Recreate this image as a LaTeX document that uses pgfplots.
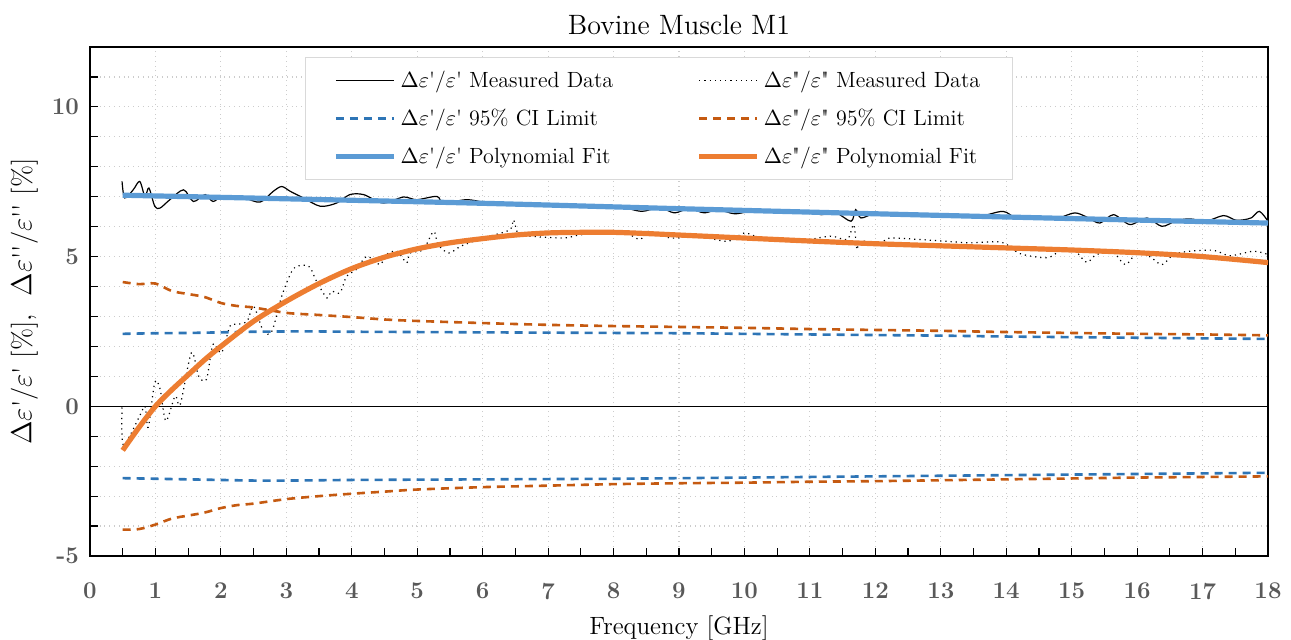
\documentclass[border=0pt]{standalone}
\usepackage{pgfplots}
\pgfplotsset{compat=1.18}
\definecolor{fitblue}{HTML}{5B9BD5}
\definecolor{fitorange}{HTML}{ED7D31}
\definecolor{ciblue}{HTML}{2E75B6}
\definecolor{ciorange}{HTML}{C55A11}
\definecolor{tickgray}{HTML}{595959}
\newcommand{\ep}{$\Delta\varepsilon$\textquotesingle/$\varepsilon$\textquotesingle}
\newcommand{\epp}{$\Delta\varepsilon$\textquotedbl/$\varepsilon$\textquotedbl}
\begin{document}
\begin{tikzpicture}
\begin{axis}[
  scale only axis,
  width=589pt, height=254.5pt,
  xmin=0, xmax=18, ymin=-5, ymax=12,
  xtick={0,1,...,18},
  minor x tick num=1,
  ytick={-5,0,5,10},
  minor ytick={-4,-3,-2,-1,1,2,3,4,6,7,8,9,11,12},
  tick pos=left,
  tick align=inside,
  major tick length=4pt, minor tick length=4pt,
  tick style={black, line width=0.6pt},
  xmajorgrids, ymajorgrids, yminorgrids,
  major grid style={gray!40, dotted, line width=0.6pt},
  minor grid style={gray!40, dotted, line width=0.6pt},
  axis line style={black, line width=0.9pt},
  /pgf/number format/assume math mode=true,
  ticklabel style={font=\fontsize{12}{14}\selectfont\bfseries, text=tickgray},
  xticklabel style={yshift=-10pt},
  yticklabel style={xshift=-2pt},
  title={Bovine Muscle M1},
  title style={font=\fontsize{14}{16}\selectfont, yshift=-3.5pt},
  xlabel={Frequency [GHz]},
  xlabel style={font=\fontsize{12.5}{15}\selectfont, yshift=-1pt},
  ylabel={\ep{} [\%],\ \ $\Delta\varepsilon$\textquotesingle\textquotesingle/$\varepsilon$\textquotesingle\textquotesingle{} [\%]},
  ylabel style={font=\fontsize{13.5}{15}\selectfont, yshift=0pt},
  legend columns=2,
  legend cell align=left,
  legend style={at={(0.1825,0.98)}, anchor=north west, draw=gray!30, fill=white,
    font=\fontsize{11}{13}\selectfont, inner xsep=14pt, inner ysep=4.5pt,
    row sep=5.3pt, /tikz/every even column/.append style={column sep=0pt}},
  legend image code/.code={\draw[#1] (0pt,0pt) -- (29pt,0pt);},
]
\addplot[black, line width=0.6pt, forget plot] coordinates {(0,0) (18,0)};

% eps' measured
\addplot[black, line width=0.6pt, smooth] coordinates {
(0.49,7.51) (0.53,6.96) (0.66,7.23) (0.76,7.51) (0.84,7.01) (0.9,7.29) (0.99,6.68)
(1.07,6.62) (1.22,6.9) (1.43,7.23) (1.58,6.84) (1.76,7.07) (1.88,6.84) (2.04,7.03)
(2.35,6.96) (2.6,6.82) (2.8,7.18) (2.93,7.34) (3.06,7.18) (3.26,6.96) (3.52,6.68)
(3.77,6.79) (3.97,7.07) (4.18,7.07) (4.48,6.79) (4.79,6.99) (4.99,6.9) (5.3,7.01)
(5.4,6.79) (5.76,6.9) (6.11,6.79) (6.6,6.78) (7.1,6.72) (7.6,6.7) (8.1,6.66)
(8.43,6.51) (8.7,6.64) (8.93,6.46) (9.15,6.6) (9.39,6.46) (9.6,6.58) (9.85,6.43)
(10.2,6.55) (10.6,6.5) (11.0,6.48) (11.17,6.4) (11.4,6.46) (11.63,6.18) (11.7,6.57)
(11.78,6.29) (12.0,6.44) (12.4,6.45) (12.8,6.4) (13.2,6.38) (13.6,6.35) (13.95,6.51)
(14.16,6.29) (14.5,6.33) (14.8,6.3) (15.05,6.46) (15.25,6.3) (15.43,6.12) (15.64,6.4)
(15.89,6.07) (16.15,6.29) (16.38,6.01) (16.6,6.2) (16.81,6.26) (17.05,6.18)
(17.32,6.37) (17.5,6.22) (17.63,6.23) (17.75,6.3) (17.87,6.51) (18.0,6.18)};
\addlegendentry{\makebox[146pt][l]{\ep{} Measured Data}}

% eps'' measured
\addplot[black, line width=0.6pt, dotted, smooth] coordinates {
(0.49,-0.04) (0.51,-1.3) (0.76,-0.32) (0.84,0.0) (0.89,-0.7) (0.99,0.8) (1.07,0.58)
(1.16,-0.49) (1.3,0.34) (1.38,0.07) (1.55,1.79) (1.66,1.01) (1.78,0.9) (1.88,2.07)
(2.01,1.79) (2.14,2.68) (2.24,2.73) (2.4,2.84) (2.5,3.34) (2.65,2.51) (2.78,2.51)
(2.93,3.68) (3.1,4.57) (3.25,4.71) (3.36,4.65) (3.46,4.18) (3.62,3.62) (3.69,3.84)
(3.82,3.79) (3.92,4.34) (4.07,4.57) (4.23,5.01) (4.43,4.73) (4.53,5.07) (4.69,5.18)
(4.84,4.79) (4.89,5.12) (5.09,5.23) (5.25,5.84) (5.32,5.4) (5.48,5.12) (5.66,5.34)
(5.86,5.51) (6.11,5.68) (6.42,5.9) (6.47,6.23) (6.55,5.73) (6.73,5.68) (7.24,5.62)
(7.5,5.73) (8.11,5.84) (8.4,5.57) (8.52,5.84) (8.88,5.62) (9.29,5.68) (9.75,5.51)
(10.0,5.79) (10.31,5.57) (10.8,5.51) (11.31,5.68) (11.57,5.57) (11.67,6.07)
(11.72,5.23) (11.77,5.51) (12.08,5.46) (12.22,5.62) (12.68,5.57) (13.09,5.51)
(13.45,5.46) (13.93,5.48) (14.21,5.1) (14.62,4.96) (14.82,5.18) (15.03,5.23)
(15.23,4.81) (15.38,5.07) (15.64,5.12) (15.82,4.73) (16.0,5.12) (16.2,4.99)
(16.38,4.73) (16.56,5.07) (16.81,5.18) (17.17,5.21) (17.42,5.03) (17.78,5.18) (18.0,5.07)};
\addlegendentry{\epp{} Measured Data}

% CI limits
\addplot[ciblue, line width=1.3pt, dash pattern=on 4pt off 3pt, smooth] coordinates {
(0.5,2.42) (1,2.44) (1.5,2.45) (2,2.47) (2.5,2.49) (3,2.5) (3.5,2.5) (4,2.49) (5,2.48)
(6,2.47) (7,2.46) (8,2.45) (9,2.44) (10,2.42) (11,2.4) (12,2.38) (13,2.36) (14,2.33)
(15,2.31) (16,2.29) (17,2.27) (18,2.25)};
\addlegendentry{\makebox[146pt][l]{\ep{} 95\% CI Limit}}

\addplot[ciorange, line width=1.3pt, dash pattern=on 4pt off 3pt, smooth] coordinates {
(0.5,4.15) (0.75,4.08) (1,4.1) (1.25,3.85) (1.5,3.75) (1.75,3.65) (2,3.45) (2.25,3.35)
(2.5,3.3) (3,3.12) (3.5,3.05) (4,2.98) (4.5,2.9) (5,2.85) (6,2.78) (7,2.72) (8,2.68)
(9,2.65) (10,2.62) (11,2.58) (12,2.55) (13,2.52) (14,2.48) (15,2.45) (16,2.42) (17,2.4) (18,2.37)};
\addlegendentry{\epp{} 95\% CI Limit}

\addplot[ciblue, line width=1.3pt, dash pattern=on 4pt off 3pt, smooth, forget plot] coordinates {
(0.5,-2.4) (1,-2.42) (1.5,-2.44) (2,-2.46) (2.5,-2.48) (3,-2.48) (3.5,-2.47) (4,-2.46)
(5,-2.45) (6,-2.44) (7,-2.43) (8,-2.42) (9,-2.4) (10,-2.38) (11,-2.36) (12,-2.34)
(13,-2.32) (14,-2.3) (15,-2.28) (16,-2.26) (17,-2.24) (18,-2.22)};
\addplot[ciorange, line width=1.3pt, dash pattern=on 4pt off 3pt, smooth, forget plot] coordinates {
(0.5,-4.12) (0.75,-4.1) (1,-3.95) (1.25,-3.75) (1.5,-3.65) (1.75,-3.55) (2,-3.4)
(2.25,-3.3) (2.5,-3.25) (3,-3.1) (3.5,-3.0) (4,-2.92) (4.5,-2.85) (5,-2.78) (6,-2.7)
(7,-2.65) (8,-2.6) (9,-2.57) (10,-2.55) (11,-2.52) (12,-2.5) (13,-2.47) (14,-2.44)
(15,-2.41) (16,-2.38) (17,-2.36) (18,-2.34)};

% fits
\addplot[fitblue, line width=2.6pt, smooth] coordinates {
(0.5,7.05) (3,6.93) (6,6.78) (9,6.6) (12,6.43) (15,6.27) (18,6.12)};
\addlegendentry{\makebox[146pt][l]{\ep{} Polynomial Fit}}
\addplot[fitorange, line width=2.6pt, smooth] coordinates {
(0.5,-1.47) (0.75,-0.7) (1,0.0) (1.25,0.55) (1.5,1.05) (1.75,1.55) (2,2.0) (2.5,2.84)
(3,3.51) (3.5,4.1) (4,4.6) (4.5,4.98) (5,5.26) (5.5,5.46) (6,5.6) (6.5,5.72) (7,5.79)
(7.5,5.81) (8,5.81) (8.5,5.77) (9,5.72) (10,5.62) (11,5.52) (12,5.43) (13,5.36)
(14,5.29) (15,5.22) (16,5.13) (17,5.0) (18,4.8)};
\addlegendentry{\epp{} Polynomial Fit}
\end{axis}
\pgfresetboundingbox
\path ([shift={(-45pt,-41.5pt)}]current axis.south west) rectangle ([shift={(11.5pt,23.5pt)}]current axis.north east);
\end{tikzpicture}
\end{document}
